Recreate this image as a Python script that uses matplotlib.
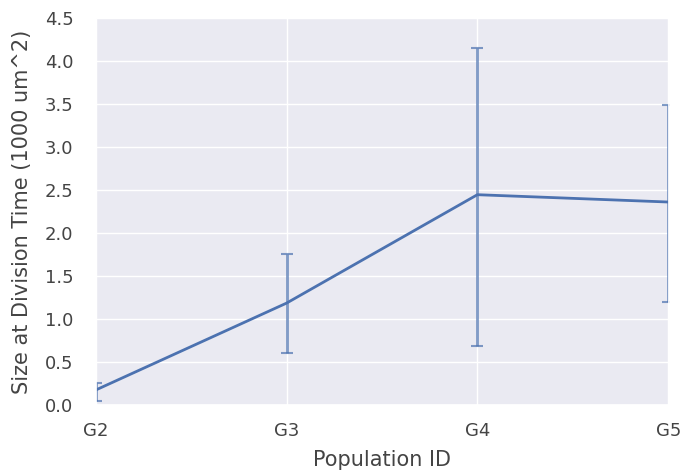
import matplotlib
matplotlib.use("Agg")
import matplotlib.pyplot as plt
import seaborn as sns
import numpy as np

sns.set_theme(style="darkgrid")

populations = ["G2", "G3", "G4", "G5"]
mean_size = [0.175, 1.185, 2.445, 2.36]
err_low = [0.05, 0.60, 0.69, 1.20]
err_high = [0.26, 1.76, 4.15, 3.49]

x = np.arange(len(populations))
m = np.array(mean_size)
yerr = np.vstack([m - np.array(err_low), np.array(err_high) - m])

txt = "#444444"
fig, ax = plt.subplots(figsize=(6.84, 4.71), dpi=100)
ax.plot(x, m, color="#4c72b0", lw=2)
ax.errorbar(x, m, yerr=yerr, fmt="none", ecolor="#4c72b0", elinewidth=2,
            capsize=4, capthick=1.5, alpha=0.7)
ax.set_xticks(x)
ax.set_xticklabels(populations)
ax.set_xlim(0, len(populations) - 1 + 0.004)
ax.set_ylim(0, 4.5)
ax.set_yticks(np.arange(0, 4.51, 0.5))
ax.tick_params(labelsize=13, labelcolor=txt)
ax.tick_params(axis="y", pad=10)
ax.tick_params(axis="x", pad=6.5)
ax.set_xlabel("Population ID", fontsize=15, color=txt, labelpad=7)
ax.set_ylabel("Size at Division Time (1000 um^2)", fontsize=15, color=txt, labelpad=9)
fig.subplots_adjust(left=0.14, right=0.978, top=0.962, bottom=0.14)
fig.savefig("out.png", dpi=100)
